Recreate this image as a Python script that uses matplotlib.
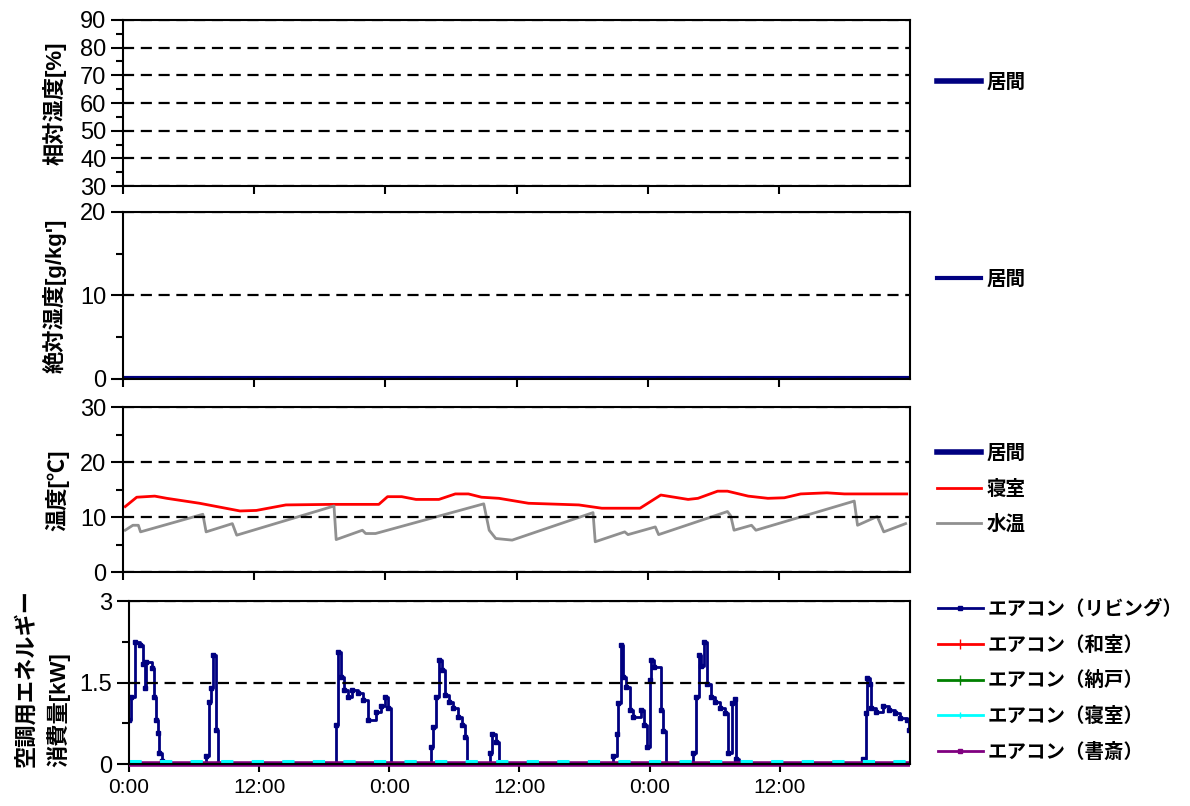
import matplotlib
matplotlib.use("Agg")
import matplotlib.pyplot as plt
from matplotlib.ticker import MultipleLocator, FormatStrFormatter
from matplotlib.lines import Line2D

plt.rcParams['font.family'] = ['Liberation Sans', 'Noto Sans CJK JP', 'DejaVu Sans']

# 時刻 [h] (0 = 初日 0:00)
xticks = [0, 12, 24, 36, 48, 60]
xlabels = ["0:00", "12:00", "0:00", "12:00", "0:00", "12:00"]

# 相対湿度 居間 (欠測)
rh_t = []
rh_living = []

# 絶対湿度 居間
ah_t = [0, 72]
ah_living = [0.1, 0.1]

# 温度 寝室
bed_t = [0.2, 1.25, 2.9, 4.0, 7.0, 10.7, 12.2, 14.9, 19.1, 23.4, 24.2, 25.5, 26.8, 28.9,
         30.4, 31.6, 32.8, 34.4, 37.1, 41.7, 43.8, 47.3, 49.2, 51.7, 52.6, 54.4, 55.3,
         57.2, 59.0, 60.5, 62.0, 64.4, 66.0, 71.7]
bed_temp = [11.9, 13.6, 13.8, 13.4, 12.5, 11.1, 11.2, 12.2, 12.3, 12.3, 13.7, 13.7, 13.2, 13.2,
            14.2, 14.2, 13.6, 13.4, 12.5, 12.2, 11.6, 11.6, 14.0, 13.2, 13.4, 14.7, 14.7,
            13.8, 13.4, 13.5, 14.2, 14.4, 14.2, 14.2]

# 水温
wat_t = [0.2, 0.9, 1.4, 1.6, 7.3, 7.6, 10.0, 10.4, 19.3, 19.5, 21.9, 22.2, 23.1, 33.0, 33.5,
         34.1, 35.6, 43.0, 43.2, 45.9, 46.2, 48.7, 49.0, 55.3, 55.6, 55.9, 57.5, 57.9, 66.9,
         67.2, 69.0, 69.6, 71.6]
wat_temp = [7.6, 8.5, 8.5, 7.3, 10.5, 7.3, 8.8, 6.7, 12.0, 5.9, 7.6, 7.0, 7.0, 12.4, 7.6,
            6.1, 5.8, 10.8, 5.5, 7.3, 6.8, 8.2, 6.8, 11.0, 10.2, 7.6, 8.5, 7.6, 12.9,
            8.5, 10.1, 7.3, 8.8]

# 空調用エネルギー消費量 [kW]
liv_t = [0.0, 0.2, 0.55, 1.0, 1.3, 1.5, 1.6, 2.1, 2.35, 2.5, 2.65, 2.8, 3.0, 3.1,
         7.1, 7.4, 7.55, 7.7, 8.0, 8.2,
         19.05, 19.3, 19.5, 19.8, 20.2, 20.6, 21.1, 21.6, 22.0, 22.8, 23.2, 23.6, 23.9, 24.2,
         27.8, 28.05, 28.3, 28.55, 28.9, 29.1, 29.5, 29.9, 30.3, 30.7, 31.0, 31.2,
         33.3, 33.45, 33.8, 34.1,
         44.6, 44.95, 45.1, 45.35, 45.5, 45.85, 46.2, 46.5, 47.2, 47.5, 47.8, 48.0, 48.15,
         48.4, 49.0, 49.25, 49.5,
         52.0, 52.3, 52.55, 52.75, 53.0, 53.3, 53.7, 54.0, 54.5, 54.9, 55.2, 55.6, 55.85,
         56.0, 56.2,
         67.7, 67.95, 68.0, 68.3, 68.45, 68.9, 69.5, 70.1, 70.6, 71.1, 71.7, 71.9]
liv_kw = [0.81, 1.24, 2.25, 2.19, 1.85, 1.40, 1.88, 1.76, 1.24, 0.81, 0.57, 0.20, 0.05, 0.0,
          0.15, 1.15, 1.40, 2.00, 0.62, 0.0,
          0.72, 2.07, 1.61, 1.36, 1.24, 1.36, 1.30, 1.18, 0.81, 0.96, 1.06, 1.24, 1.03, 0.0,
          0.32, 0.69, 1.24, 1.92, 1.73, 1.27, 1.15, 1.03, 0.87, 0.72, 0.50, 0.0,
          0.20, 0.56, 0.41, 0.0,
          0.15, 0.56, 1.12, 2.19, 1.60, 1.42, 1.00, 0.87, 1.00, 0.72, 0.32, 1.55, 1.92,
          1.78, 1.00, 0.60, 0.0,
          0.20, 1.24, 2.00, 1.80, 2.25, 1.48, 1.24, 1.15, 1.03, 0.93, 0.20, 1.12, 1.20,
          0.10, 0.0,
          0.10, 0.93, 1.58, 1.48, 1.03, 0.96, 1.06, 1.00, 0.93, 0.84, 0.81, 0.62]
flat_t = [0, 72]
wa_kw = [0.0, 0.0]
nando_kw = [0.0, 0.0]
bedac_kw = [0.05, 0.05]
study_kw = [0.0, 0.0]

navy = '#000080'
fig = plt.figure(figsize=(11.9, 8.06), dpi=100)
ax1 = fig.add_axes([0.1034, 0.7692, 0.6613, 0.2060])
ax2 = fig.add_axes([0.1034, 0.5298, 0.6613, 0.2072])
ax3 = fig.add_axes([0.1034, 0.2903, 0.6613, 0.2047])
ax4 = fig.add_axes([0.1084, 0.0521, 0.6563, 0.2022])

ax1.plot(rh_t, rh_living, color=navy, lw=4, label='居間')
ax1.set_ylim(30, 90)
ax1.yaxis.set_major_locator(MultipleLocator(10))
ax1.yaxis.set_minor_locator(MultipleLocator(5))

ax2.plot(ah_t, ah_living, color=navy, lw=3, label='居間')
ax2.set_ylim(0, 20)
ax2.yaxis.set_major_locator(MultipleLocator(10))
ax2.yaxis.set_minor_locator(MultipleLocator(5))

ax3.plot([], [], color=navy, lw=4, label='居間')
ax3.plot(bed_t, bed_temp, color='#ff0000', lw=2, label='寝室')
ax3.plot(wat_t, wat_temp, color='#909090', lw=2, label='水温')
ax3.set_ylim(0, 30)
ax3.yaxis.set_major_locator(MultipleLocator(10))
ax3.yaxis.set_minor_locator(MultipleLocator(5))

ax4.plot(liv_t, liv_kw, color=navy, lw=2, drawstyle='steps-post',
         marker='s', ms=2.2, zorder=2)
ax4.plot(flat_t, wa_kw, color='#ff0000', lw=2, zorder=3)
ax4.plot(flat_t, nando_kw, color='#008000', lw=2, zorder=3)
ax4.plot(flat_t, study_kw, color='#800080', lw=4, zorder=4, clip_on=False,
         solid_capstyle='butt')
ax4.plot(flat_t, bedac_kw, color='#00ffff', lw=2.2, ls=(0, (4, 6)), zorder=5)
ax4.set_ylim(0, 3)
ax4.set_yticks([0, 1.5, 3])
ax4.yaxis.set_major_formatter(FormatStrFormatter('%g'))
ax4.yaxis.set_minor_locator(MultipleLocator(0.75))

for ax in (ax1, ax2, ax3, ax4):
    ax.set_xlim(0, 72)
    ax.set_xticks(xticks)
    ax.grid(axis='y', color='k', ls=(0, (5, 3)), lw=1.6)
    ax.set_axisbelow(False)
    for s in ax.spines.values():
        s.set_linewidth(1.5)
        s.set_zorder(6)
    ax.tick_params(axis='y', which='major', direction='out', length=9, width=1.5,
                   labelsize=17, pad=3)
    ax.tick_params(axis='y', which='minor', direction='out', length=5, width=1.5)
    ax.tick_params(axis='x', which='major', direction='out', length=6, width=1.5,
                   labelsize=15, pad=4)
    if ax is not ax4:
        ax.set_xticklabels([])
ax4.set_xticklabels(xlabels)

leg_kw = dict(loc='center left', frameon=False, borderpad=0, borderaxespad=0,
              handlelength=2.3, handletextpad=0.25, labelspacing=0.85,
              prop={'weight': 'bold', 'size': 14})
ax1.legend(bbox_to_anchor=(1.034, 0.62), **leg_kw)
ax2.legend(bbox_to_anchor=(1.034, 0.593), **leg_kw)
ax3.legend(bbox_to_anchor=(1.034, 0.5), **leg_kw)

handles = [
    Line2D([], [], color=navy, lw=2, marker='s', ms=3),
    Line2D([], [], color='#ff0000', lw=2, marker='|', ms=7),
    Line2D([], [], color='#008000', lw=2, marker='|', ms=7),
    Line2D([], [], color='#00ffff', lw=2, marker='|', ms=5),
    Line2D([], [], color='#800080', lw=2, marker='s', ms=3),
]
labels = ['エアコン（リビング）', 'エアコン（和室）', 'エアコン（納戸）', 'エアコン（寝室）',
          'エアコン（書斎）']
ax4.legend(handles, labels, bbox_to_anchor=(1.036, 0.51), numpoints=1, **leg_kw)

lab = dict(rotation=90, ha='center', va='center', fontsize=16, weight='bold')
fig.text(55 / 1190, 1 - 103 / 806, '相対湿度[%]', **lab)
fig.text(55 / 1190, 1 - 296 / 806, "絶対湿度[g/kg']", **lab)
fig.text(57 / 1190, 1 - 490 / 806, '温度[℃]', **lab)
fig.text(43 / 1190, 1 - 767 / 806, '空調用エネルギー\n消費量[kW]', rotation=90,
         ha='center', va='bottom', multialignment='left', fontsize=16, weight='bold',
         linespacing=1.45)

fig.savefig('out.png', dpi=100)
